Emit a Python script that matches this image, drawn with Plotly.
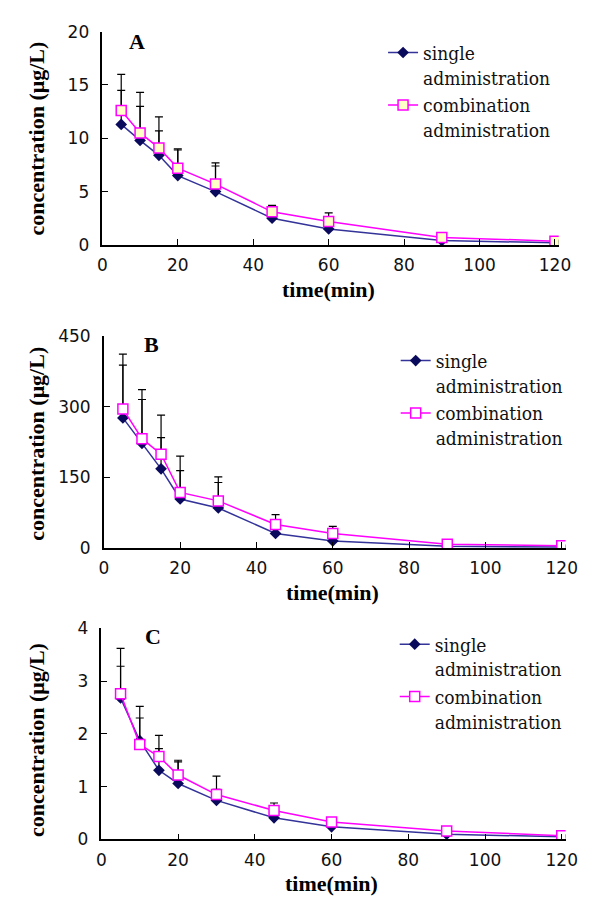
import plotly.graph_objects as go

# ---------------- data ----------------
time_min = [5, 10, 15, 20, 30, 45, 60, 90, 120]

A_single = [11.3, 9.8, 8.4, 6.5, 5.0, 2.5, 1.5, 0.4, 0.2]
A_single_sd = [3.2, 3.2, 2.3, 2.4, 2.4, 1.1, 0.6, 0.2, 0.1]
A_comb = [12.6, 10.5, 9.1, 7.2, 5.7, 3.1, 2.2, 0.7, 0.35]
A_comb_sd = [3.4, 3.8, 2.9, 1.8, 2.0, 0.6, 0.8, 0.2, 0.1]

B_single = [276, 222, 168, 104, 85, 31, 15, 4, 2]
B_single_sd = [112, 93, 66, 60, 54, 20, 10, 3, 1]
B_comb = [295, 232, 199, 118, 100, 50, 31, 8, 5]
B_comb_sd = [116, 104, 83, 77, 51, 21, 15, 4, 2]

C_single = [2.68, 1.87, 1.31, 1.06, 0.74, 0.41, 0.24, 0.10, 0.05]
C_single_sd = [0.60, 0.43, 0.41, 0.41, 0.21, 0.15, 0.08, 0.03, 0.02]
C_comb = [2.76, 1.80, 1.57, 1.22, 0.85, 0.55, 0.33, 0.16, 0.07]
C_comb_sd = [0.86, 0.72, 0.40, 0.28, 0.35, 0.14, 0.06, 0.03, 0.02]

x_ticks = [0, 20, 40, 60, 80, 100, 120]
A_yticks = [0, 5, 10, 15, 20]
B_yticks = [0, 150, 300, 450]
C_yticks = [0, 1, 2, 3, 4]

panel_labels = ["A", "B", "C"]
series_names = ["single<br>administration", "combination<br>administration"]
x_title = "time(min)"
y_title = "concentration (μg/L)"

# ---------------- layout geometry (pixels in the final picture) ----------------
W, H = 592, 906
OFF = 8  # page body margin shifts the figure right/down by this much


def px_x(p):
    return (p - OFF) / W


def px_y(p):
    return 1 - (p - OFF) / H


panels = [
    dict(x0=100, x120=566, top=22, bot=240, ymax=20, yt=A_yticks,
         s=A_single, ssd=A_single_sd, c=A_comb, csd=A_comb_sd, sqfill="#ffffc8",
         leg_x=389, leg_y=24, lab=(136, 32), xt_y=286, yt_y=131),
    dict(x0=101.5, x120=573, top=333, bot=550, ymax=450, yt=B_yticks,
         s=B_single, ssd=B_single_sd, c=B_comb, csd=B_comb_sd, sqfill="#ffffff",
         leg_x=402, leg_y=339, lab=(151, 342), xt_y=595, yt_y=443),
    dict(x0=99, x120=573, top=632, bot=848, ymax=4, yt=C_yticks,
         s=C_single, ssd=C_single_sd, c=C_comb, csd=C_comb_sd, sqfill="#ffffff",
         leg_x=401, leg_y=629, lab=(152, 640), xt_y=893, yt_y=746),
]

fig = go.Figure()
tick_font = dict(family="DejaVu Sans", size=17, color="#111111")
leg_font = dict(family="DejaVu Serif Condensed, DejaVu Serif", size=19, color="#111111")
title_font = dict(family="Liberation Serif", size=22, color="#000000")

XR = 121
annotations = []
for i, p in enumerate(panels):
    k = "" if i == 0 else str(i + 1)
    xa, ya = "x" + k, "y" + k
    leg = "legend" + k
    fig.add_trace(go.Scatter(
        x=time_min, y=p["s"], name=series_names[0], mode="lines+markers",
        line=dict(color="#33339a", width=1.5),
        marker=dict(symbol="diamond", size=9, color="#0a0a5c"),
        error_y=dict(type="data", symmetric=False, array=p["ssd"],
                     arrayminus=[0] * len(p["ssd"]), color="#000000",
                     thickness=1.2, width=4),
        xaxis=xa, yaxis=ya, legend=leg))
    fig.add_trace(go.Scatter(
        x=time_min, y=p["c"], name=series_names[1], mode="lines+markers",
        line=dict(color="#ff00ff", width=1.5),
        marker=dict(symbol="square", size=10, color=p["sqfill"],
                    line=dict(color="#ff00ff", width=1.5)),
        error_y=dict(type="data", symmetric=False, array=p["csd"],
                     arrayminus=[0] * len(p["csd"]), color="#000000",
                     thickness=1.2, width=4),
        xaxis=xa, yaxis=ya, legend=leg))

    x_end = p["x0"] + (p["x120"] - p["x0"]) * XR / 120
    fig.update_layout(**{
        "xaxis" + k: dict(domain=[px_x(p["x0"]), px_x(x_end)], range=[0, XR],
                          tickvals=x_ticks, ticks="inside", ticklen=6,
                          tickcolor="#000", tickwidth=1.2,
                          showline=True, linecolor="#000", linewidth=1.5,
                          showgrid=False, zeroline=False, tickfont=tick_font,
                          ticklabelstandoff=4, anchor=ya, fixedrange=True),
        "yaxis" + k: dict(domain=[px_y(p["bot"]), px_y(p["top"])],
                          range=[0, p["ymax"]], tickvals=p["yt"],
                          ticks="inside", ticklen=6, tickcolor="#000",
                          tickwidth=1.2, showline=True, linecolor="#000",
                          linewidth=1.5, showgrid=False, zeroline=False,
                          tickfont=tick_font, ticklabelstandoff=8,
                          anchor=xa, fixedrange=True),
        leg: dict(x=px_x(p["leg_x"]), y=px_y(p["leg_y"]), xanchor="left",
                  yanchor="top", font=leg_font, bgcolor="rgba(0,0,0,0)",
                  valign="top", tracegroupgap=0),
    })
    annotations.append(dict(text="<b>%s</b>" % panel_labels[i], xref="paper",
                            yref="paper", x=px_x(p["lab"][0]), y=px_y(p["lab"][1]),
                            xanchor="center", yanchor="middle", showarrow=False,
                            font=dict(family="Liberation Serif", size=22, color="#000")))
    annotations.append(dict(text="<b>%s</b>" % x_title, xref="paper", yref="paper",
                            x=px_x((p["x0"] + p["x120"]) / 2),
                            y=px_y(p["xt_y"]), xanchor="center", yanchor="middle",
                            showarrow=False, font=title_font))
    annotations.append(dict(text="<b>%s</b>" % y_title, xref="paper", yref="paper",
                            x=px_x(32), y=px_y(p["yt_y"]), xanchor="center",
                            yanchor="middle", textangle=-90, showarrow=False,
                            font=title_font))

fig.update_layout(width=W, height=H, margin=dict(l=0, r=0, t=0, b=0),
                  paper_bgcolor="#ffffff", plot_bgcolor="#ffffff",
                  annotations=annotations, showlegend=True)

fig.write_html("out.html")
